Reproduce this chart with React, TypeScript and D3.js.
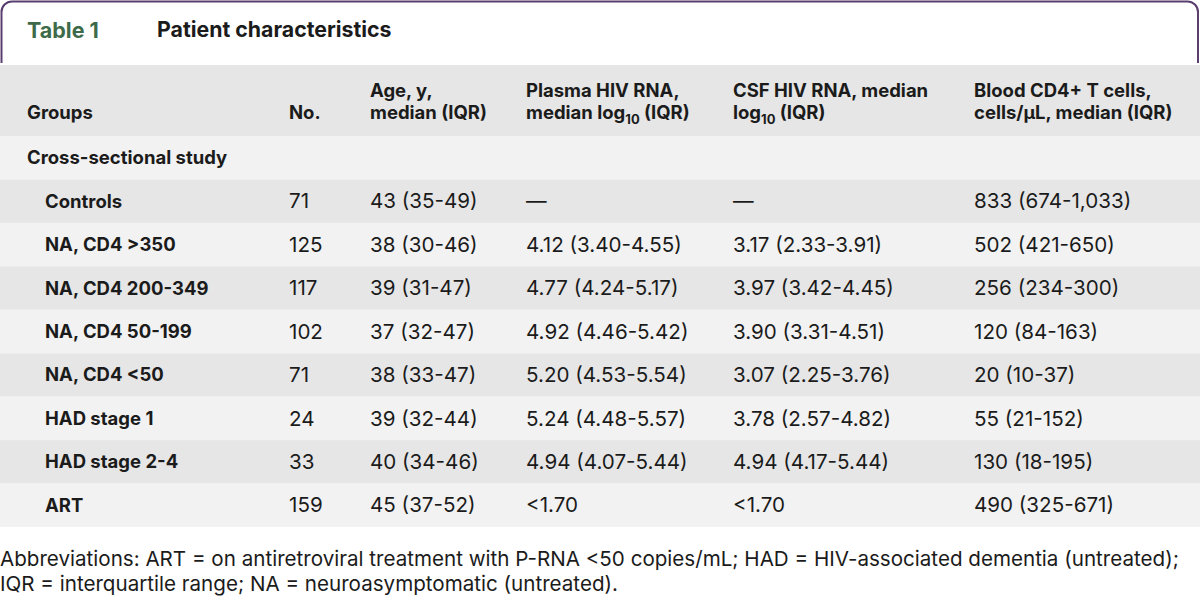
import React, { useEffect } from "react";
import * as d3 from "d3";

const groups = ["Controls", "NA, CD4 >350", "NA, CD4 200-349", "NA, CD4 50-199", "NA, CD4 <50", "HAD stage 1", "HAD stage 2-4", "ART"];
const counts = ["71", "125", "117", "102", "71", "24", "33", "159"];
const ages = ["43 (35-49)", "38 (30-46)", "39 (31-47)", "37 (32-47)", "38 (33-47)", "39 (32-44)", "40 (34-46)", "45 (37-52)"];
const plasma = ["—", "4.12 (3.40-4.55)", "4.77 (4.24-5.17)", "4.92 (4.46-5.42)", "5.20 (4.53-5.54)", "5.24 (4.48-5.57)", "4.94 (4.07-5.44)", "<1.70"];
const csf = ["—", "3.17 (2.33-3.91)", "3.97 (3.42-4.45)", "3.90 (3.31-4.51)", "3.07 (2.25-3.76)", "3.78 (2.57-4.82)", "4.94 (4.17-5.44)", "<1.70"];
const cd4 = ["833 (674-1,033)", "502 (421-650)", "256 (234-300)", "120 (84-163)", "20 (10-37)", "55 (21-152)", "130 (18-195)", "490 (325-671)"];
const sectionLabel = "Cross-sectional study";
const footnote = [
  "Abbreviations: ART = on antiretroviral treatment with P-RNA <50 copies/mL; HAD = HIV-associated dementia (untreated);",
  "IQR = interquartile range; NA = neuroasymptomatic (untreated).",
];

const W = 1200, H = 598;
const FONT = "Inter, 'Liberation Sans', Arial, sans-serif";
const TXT = "#1b1b1b";
const DARK = "#e6e6e6";
const LIGHT = "#f2f2f2";
const PURPLE = "#5a3e6e";
const GREEN = "#3d6b49";

export default function App() {
  useEffect(() => {
    document.body.style.margin = "0";
  }, []);

  const rowKeys = ["__section", ...groups];
  const y = d3.scaleBand<string>().domain(rowKeys).range([136, 527]).padding(0);
  const colX = d3.scaleOrdinal<string, number>()
    .domain(["group", "no", "age", "plasma", "csf", "cd4"])
    .range([27, 289, 370, 526, 733, 974]);
  const fs = 18.5;
  const fsReg = 20.6;

  const sub = (main: string, rest: string) => (
    <>
      {main}
      <tspan fontSize={13} dy={5}>10</tspan>
      <tspan dy={-5}>{rest}</tspan>
    </>
  );

  return (
    <svg width={W} height={H} style={{ display: "block" }} fontFamily={FONT}>
      <rect x={0} y={0} width={W} height={H} fill="#fff" />
      <path d="M1.5,63 V12 A10.5,10.5 0 0 1 12,1.5 H1187.5 A10.5,10.5 0 0 1 1198,12 V63" fill="none" stroke={PURPLE} strokeWidth={2} />
      <text x={27} y={30} dy="0.35em" fontSize={21.5} fontWeight={700} fill={GREEN}>Table 1</text>
      <text x={157} y={30} dy="0.35em" fontSize={21.3} fontWeight={700} fill={TXT}>Patient characteristics</text>

      <rect x={0} y={65} width={W} height={71} fill={DARK} />
      <g fontSize={fs} fontWeight={700} fill={TXT}>
        <text x={colX("group")} y={113} dy="0.35em">Groups</text>
        <text x={colX("no")} y={113} dy="0.35em">No.</text>
        <text x={colX("age")} y={91} dy="0.35em">Age, y,</text>
        <text x={colX("age")} y={113} dy="0.35em">median (IQR)</text>
        <text x={colX("plasma")} y={91} dy="0.35em">Plasma HIV RNA,</text>
        <text x={colX("plasma")} y={113} dy="0.35em">{sub("median log", " (IQR)")}</text>
        <text x={colX("csf")} y={91} dy="0.35em">CSF HIV RNA, median</text>
        <text x={colX("csf")} y={113} dy="0.35em">{sub("log", " (IQR)")}</text>
        <text x={colX("cd4")} y={91} dy="0.35em">Blood CD4+ T cells,</text>
        <text x={colX("cd4")} y={113} dy="0.35em">cells/μL, median (IQR)</text>
      </g>

      {rowKeys.map((k, i) => (
        <rect key={"bg" + k} x={0} y={y(k)!} width={W} height={y.bandwidth()} fill={i % 2 === 0 ? LIGHT : DARK} />
      ))}
      <text x={colX("group")} y={y("__section")! + y.bandwidth() / 2} dy="0.35em" fontSize={fs} fontWeight={700} fill={TXT}>{sectionLabel}</text>
      {groups.map((g, i) => {
        const cy = y(g)! + y.bandwidth() / 2;
        return (
          <g key={g} fontSize={fsReg} fill={TXT}>
            <text x={45} y={cy} dy="0.35em" fontSize={fs} fontWeight={700}>{g}</text>
            <text x={colX("no")} y={cy} dy="0.35em">{counts[i]}</text>
            <text x={colX("age")} y={cy} dy="0.35em">{ages[i]}</text>
            <text x={colX("plasma")} y={cy} dy="0.35em">{plasma[i]}</text>
            <text x={colX("csf")} y={cy} dy="0.35em">{csf[i]}</text>
            <text x={colX("cd4")} y={cy} dy="0.35em">{cd4[i]}</text>
          </g>
        );
      })}

      {footnote.map((line, i) => (
        <text key={i} x={0} y={559 + i * 25} dy="0.35em" fontSize={20.6} fill={TXT}>{line}</text>
      ))}
    </svg>
  );
}
